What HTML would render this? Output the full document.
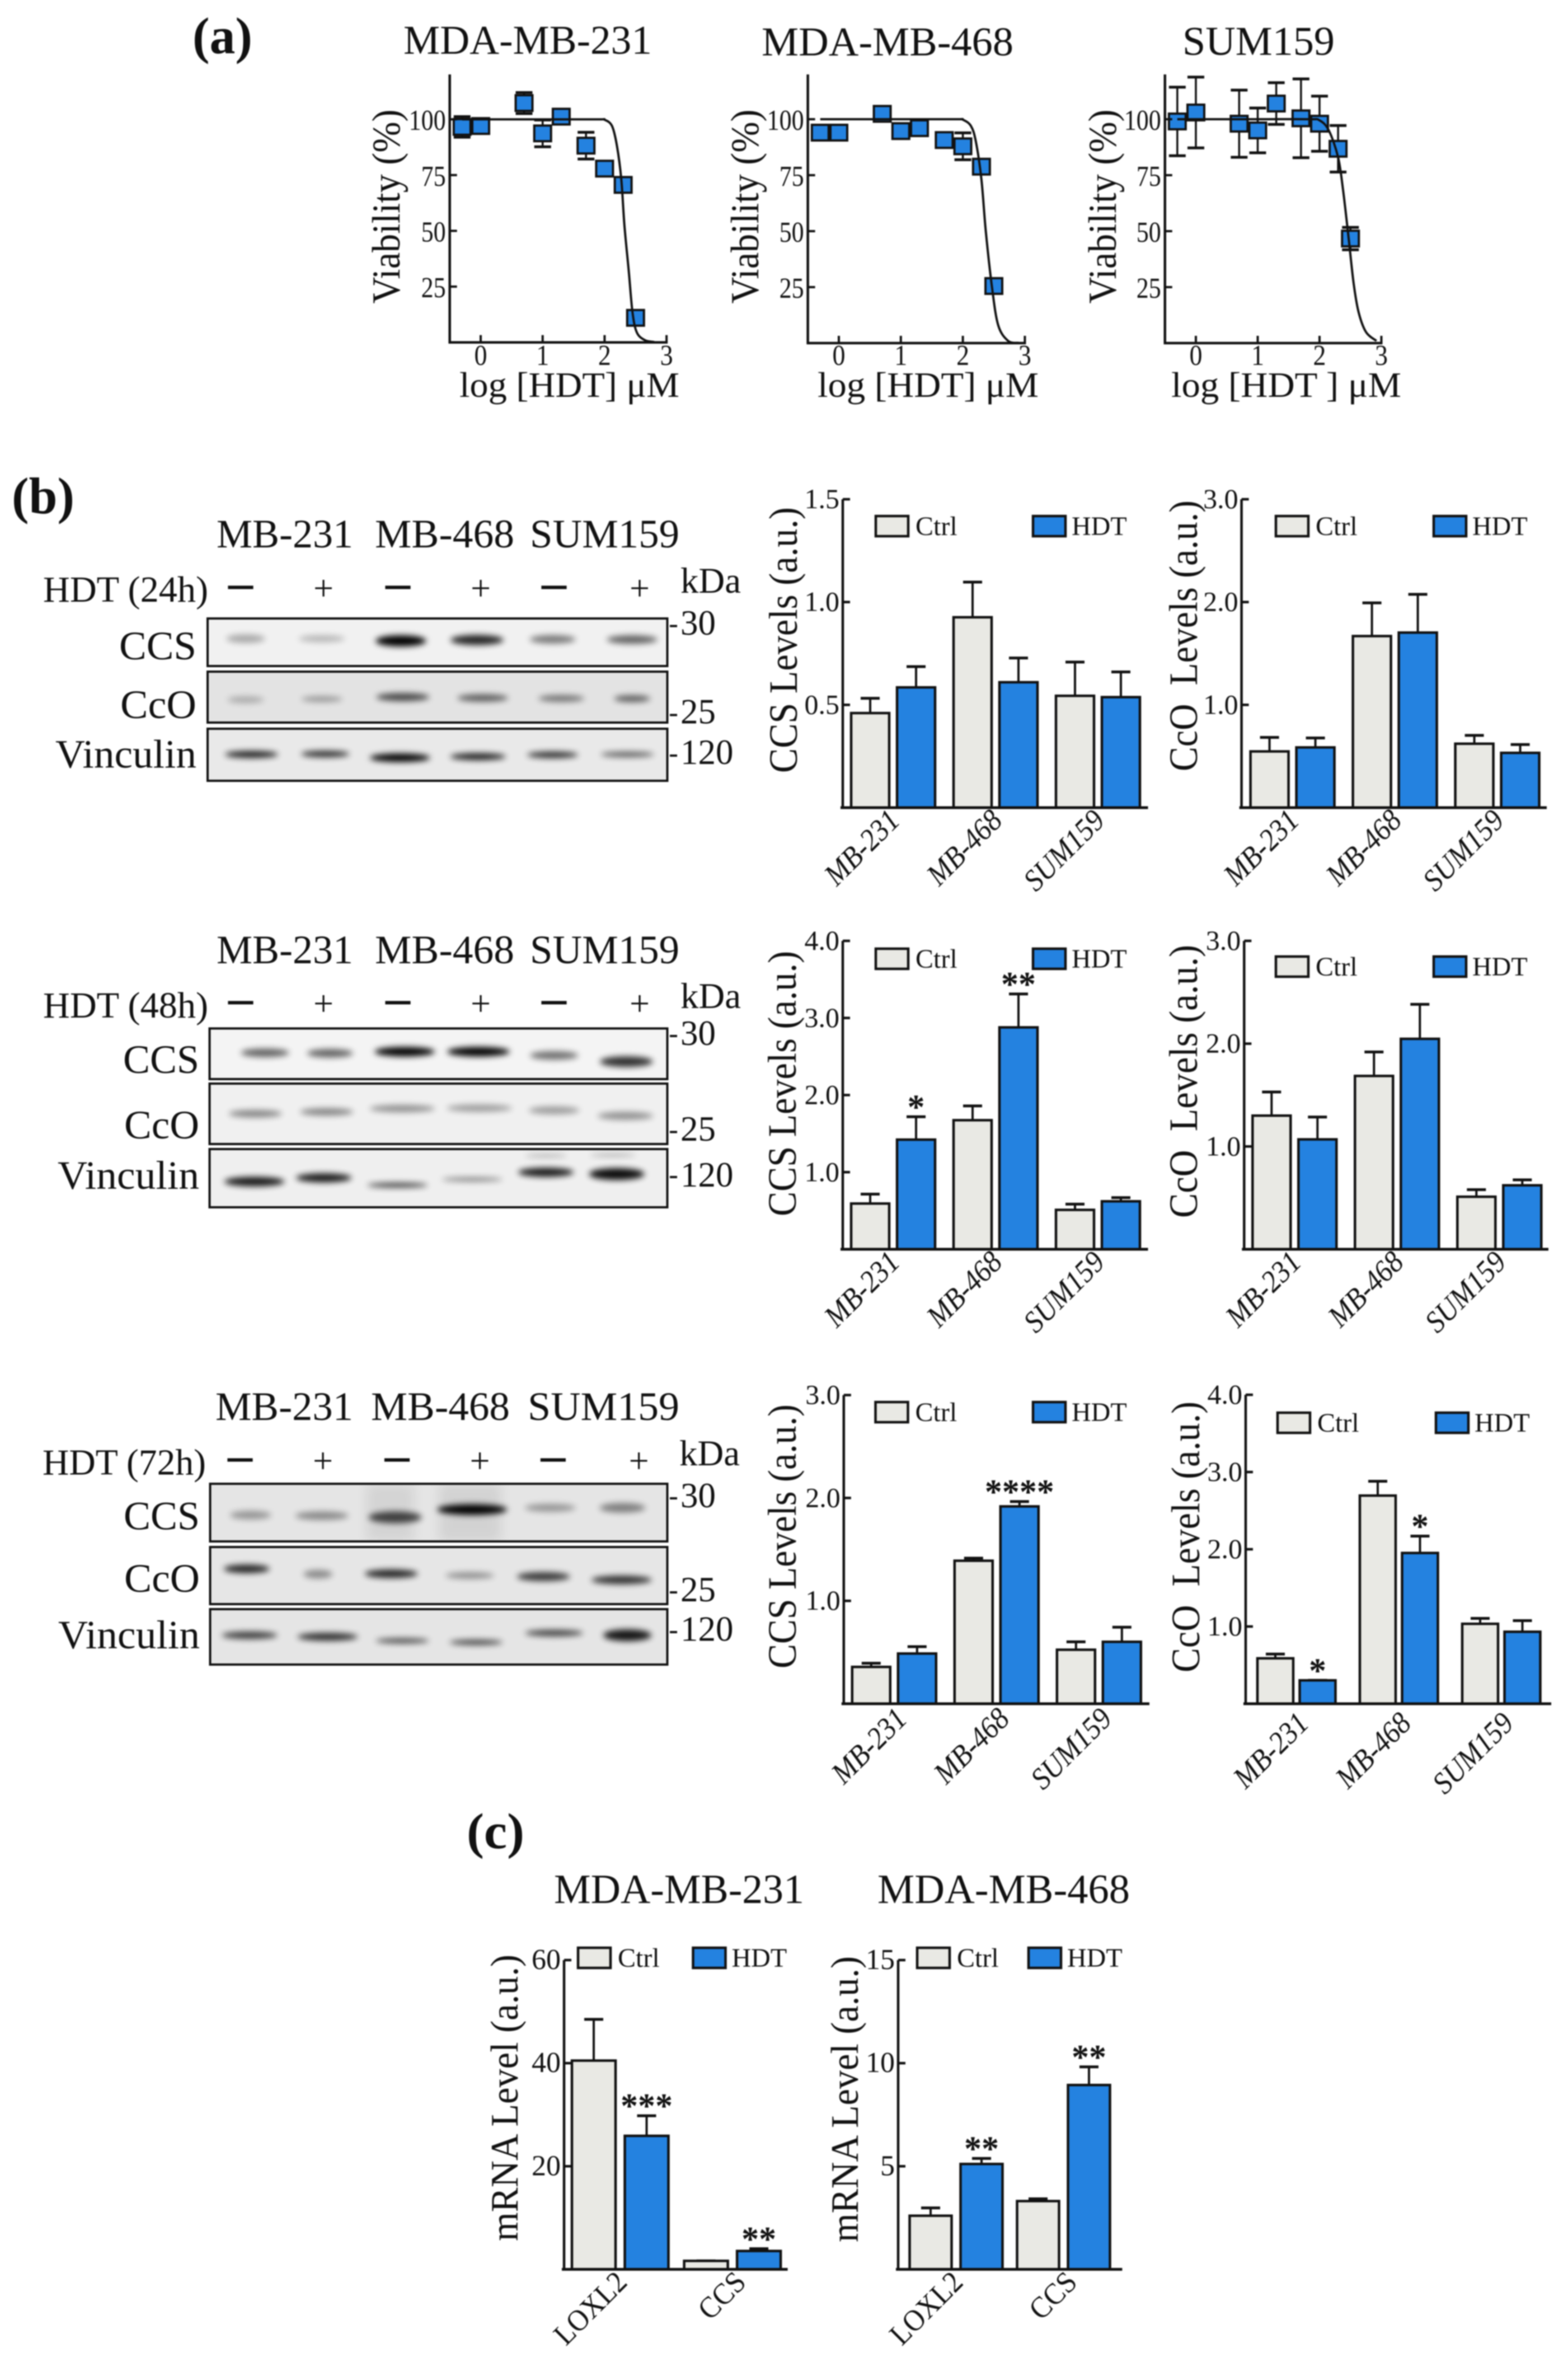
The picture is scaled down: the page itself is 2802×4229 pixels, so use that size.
<!DOCTYPE html>
<html lang="en">
<head>
<meta charset="utf-8">
<title>HDT viability, CCS and CcO levels</title>
<style>
html,body{margin:0;padding:0;background:#fff;}
svg{display:block;filter:blur(1.1px);}
text{font-family:"Liberation Serif",serif;fill:#111;white-space:pre;}
</style>
</head>
<body>
<svg id="fig" xmlns="http://www.w3.org/2000/svg" width="2802" height="4229" viewBox="0 0 2802 4229">
<defs>
<filter id="bandBlur" x="-40%" y="-200%" width="180%" height="500%"><feGaussianBlur stdDeviation="5.5"/></filter>
<filter id="smearBlur" x="-40%" y="-40%" width="180%" height="180%"><feGaussianBlur stdDeviation="10"/></filter>
</defs>
</svg>
<script>
/* ---------- dose-response data ---------- */
const doseX = [-0.3, 0, 0.7, 1, 1.3, 1.7, 2, 2.3, 2.5];
const xTickValues = [0, 1, 2, 3];
const yTickValues = [25, 50, 75, 100];

const mb231Viability = [96.6, 97, 107.3, 93.7, 101.2, 88.2, 77.9, 70.6, 11];
const mb231Err = [4.6, 1, 4.7, 6, 1, 6, 1, 1, 1];
const mb231CurveX = [-0.3, 1.0, 1.9, 2.0, 2.12, 2.2, 2.27, 2.32, 2.39, 2.45, 2.52, 2.65, 2.8];
const mb231CurveY = [100, 100, 100, 99.8, 97, 88, 73, 52.5, 32, 13.6, 4.5, 1, 0.2];

const mb468Viability = [94, 94, 102.4, 94.7, 96, 90.7, 87.9, 78.8, 25.5];
const mb468Err = [1, 1, 1.5, 1, 1, 1, 6, 1, 1];
const mb468CurveX = [-0.3, 1.0, 1.9, 2.0, 2.13, 2.21, 2.3, 2.37, 2.47, 2.57, 2.73, 2.9];
const mb468CurveY = [100, 100, 100, 99.8, 97, 90, 73, 50, 25, 8, 1, 0.1];

const sum159Viability = [99, 103, 98, 95, 107, 100.4, 98, 86.8, 46.7];
const sum159Err = [15.3, 15.8, 15, 10, 9.3, 17.6, 12.3, 10.4, 5];
const sum159CurveX = [-0.3, 1.0, 1.83, 2.0, 2.15, 2.3, 2.38, 2.47, 2.55, 2.63, 2.75, 2.92];
const sum159CurveY = [100, 100, 100, 99.5, 95, 83, 68.5, 47, 27, 14, 5, 1];

/* ---------- bar chart data ---------- */
const cellLines = ['MB-231', 'MB-468', 'SUM159'];
const genes = ['LOXL2', 'CCS'];

const ccs24Ctrl = [0.46, 0.926, 0.544];
const ccs24Hdt = [0.585, 0.61, 0.5375];
const ccs24CtrlErr = [0.532, 1.097, 0.708];
const ccs24HdtErr = [0.686, 0.728, 0.66];
const ccs24Ticks = [0.5, 1.0, 1.5];

const cco24Ctrl = [0.547, 1.669, 0.622];
const cco24Hdt = [0.586, 1.703, 0.533];
const cco24CtrlErr = [0.683, 1.992, 0.703];
const cco24HdtErr = [0.678, 2.075, 0.614];
const cco24Ticks = [1.0, 2.0, 3.0];

const ccs48Ctrl = [0.593, 1.674, 0.511];
const ccs48Hdt = [1.422, 2.878, 0.622];
const ccs48CtrlErr = [0.715, 1.859, 0.585];
const ccs48HdtErr = [1.719, 3.311, 0.67];
const ccs48Ticks = [1.0, 2.0, 3.0, 4.0];
const ccs48Stars = ['', '*', '', '**', '', ''];

const cco48Ctrl = [1.3, 1.686, 0.511];
const cco48Hdt = [1.069, 2.047, 0.622];
const cco48CtrlErr = [1.53, 1.919, 0.58];
const cco48HdtErr = [1.286, 2.383, 0.675];
const cco48Ticks = [1.0, 2.0, 3.0];

const ccs72Ctrl = [0.358, 1.39, 0.525];
const ccs72Hdt = [0.488, 1.918, 0.602];
const ccs72CtrlErr = [0.394, 1.415, 0.602];
const ccs72HdtErr = [0.555, 1.965, 0.744];
const ccs72Ticks = [1.0, 2.0, 3.0];
const ccs72Stars = ['', '', '', '****', '', ''];

const cco72Ctrl = [0.588, 2.695, 1.035];
const cco72Hdt = [0.303, 1.952, 0.932];
const cco72CtrlErr = [0.643, 2.88, 1.105];
const cco72HdtErr = [0.303, 2.17, 1.076];
const cco72Ticks = [1.0, 2.0, 3.0, 4.0];
const cco72Stars = ['', '*', '', '*', '', ''];

const mrna231Ctrl = [40.5, 1.64];
const mrna231Hdt = [25.9, 3.56];
const mrna231CtrlErr = [48.5, 1.64];
const mrna231HdtErr = [29.8, 4.0];
const mrna231Ticks = [20, 40, 60];
const mrna231Stars = ['', '***', '', '**'];

const mrna468Ctrl = [2.6, 3.31];
const mrna468Hdt = [5.11, 8.94];
const mrna468CtrlErr = [2.98, 3.42];
const mrna468HdtErr = [5.38, 9.82];
const mrna468Ticks = [5, 10, 15];
const mrna468Stars = ['', '**', '', '**'];

/* ---------- helpers ---------- */
const SVGNS = 'http://www.w3.org/2000/svg';
const root = document.getElementById('fig');
const INK = '#111';
const BLUE = '#2482e0';
const GREY = '#e9e9e4';

function el(parent, tag, attrs, name) {
  const e = document.createElementNS(SVGNS, tag);
  for (const k in attrs) e.setAttribute(k, attrs[k]);
  
  
  parent.appendChild(e);
  return e;
}
function group(parent, name) { return el(parent, 'g', {}, name); }
function line(parent, x1, y1, x2, y2, w, name) {
  return el(parent, 'line', {x1, y1, x2, y2, stroke: INK, 'stroke-width': w}, name);
}
function txt(parent, str, x, y, size, name, o) {
  o = o || {};
  const a = {x, y, 'font-size': size, 'text-anchor': o.anchor || 'start'};
  if (o.len) { a.textLength = o.len; a.lengthAdjust = 'spacingAndGlyphs'; }
  if (o.rot) a.transform = 'rotate(' + o.rot + ' ' + x + ' ' + y + ')';
  if (o.weight) a['font-weight'] = o.weight;
  if (o.italic) a['font-style'] = 'italic';
  const t = el(parent, 'text', a, name);
  t.textContent = str;
  if (o.naturalSize) {
    t.setAttribute('textLength', t.getComputedTextLength() * o.naturalSize / size);
    t.setAttribute('lengthAdjust', 'spacingAndGlyphs');
  }
  return t;
}
function smoothPath(pts) {
  let d = 'M' + pts[0][0] + ' ' + pts[0][1];
  for (let i = 0; i < pts.length - 1; i++) {
    const p0 = pts[Math.max(i - 1, 0)], p1 = pts[i], p2 = pts[i + 1], p3 = pts[Math.min(i + 2, pts.length - 1)];
    const c1x = p1[0] + (p2[0] - p0[0]) / 6, c1y = p1[1] + (p2[1] - p0[1]) / 6;
    const c2x = p2[0] - (p3[0] - p1[0]) / 6, c2y = p2[1] - (p3[1] - p1[1]) / 6;
    d += 'C' + c1x + ' ' + c1y + ' ' + c2x + ' ' + c2y + ' ' + p2[0] + ' ' + p2[1];
  }
  return d;
}

/* ---------- dose-response chart ---------- */
function doseChart(p) {
  const g = group(root, p.name);
  const sx = v => p.x0 + v * p.xUnit;
  const sy = v => p.bottom - v * p.yUnit;
  const axisL = sx(-0.5);
  txt(g, p.title, p.titleX[0], p.titleY, 73, 'chart-title', {len: p.titleX[1] - p.titleX[0]});
  txt(g, 'Viability (%)', p.ylabX, 369, 71, 'y-axis-title', {anchor: 'middle', rot: -90, len: 347});
  txt(g, p.xlabel, p.xlabX[0], 709, 64, 'x-axis-title', {len: p.xlabX[1] - p.xlabX[0]});
  p.err.forEach((e, i) => {
    const cx = sx(doseX[i]);
    const s = group(g, 'error-bar');
    line(s, cx, sy(p.vals[i] + e), cx, sy(p.vals[i] - e), 3.5, 'error-stem');
    line(s, cx - 15, sy(p.vals[i] + e), cx + 15, sy(p.vals[i] + e), 5, 'error-cap-top');
    line(s, cx - 15, sy(p.vals[i] - e), cx + 15, sy(p.vals[i] - e), 5, 'error-cap-bottom');
  });
  p.vals.forEach((v, i) => {
    el(g, 'rect', {x: sx(doseX[i]) - 15, y: sy(v) - 14, width: 30, height: 28, fill: BLUE, stroke: INK, 'stroke-width': 4}, 'data-point');
  });
  const pts = p.curveX.map((x, i) => [sx(x), sy(p.curveY[i])]);
  el(g, 'path', {d: smoothPath(pts), fill: 'none', stroke: INK, 'stroke-width': 4}, 'fit-curve');
  line(g, axisL, 133, axisL, p.bottom + 2, 4.5, 'y-axis');
  line(g, axisL - 2, p.bottom, sx(3) + 2, p.bottom, 4.5, 'x-axis');
  yTickValues.forEach(v => {
    line(g, axisL, sy(v), axisL + 13, sy(v), 4, 'y-tick');
    const s = String(v);
    txt(g, s, axisL - 7, sy(v) + 19, 52, 'y-tick-label', {anchor: 'end', len: s.length * 22});
  });
  xTickValues.forEach(v => {
    line(g, sx(v), p.bottom, sx(v), p.bottom - 13, 4, 'x-tick');
    txt(g, String(v), sx(v), 652, 52, 'x-tick-label', {anchor: 'middle', len: 23});
  });
}
doseChart({name: 'viability-chart-mda-mb-231', title: 'MDA-MB-231', titleX: [721, 1165], titleY: 96, x0: 859, xUnit: 110.7, bottom: 611.7, yUnit: 3.985, ylabX: 714, xlabel: 'log [HDT] \u03bcM', xlabX: [821, 1214], vals: mb231Viability, err: mb231Err, curveX: mb231CurveX, curveY: mb231CurveY});
doseChart({name: 'viability-chart-mda-mb-468', title: 'MDA-MB-468', titleX: [1361, 1811], titleY: 99, x0: 1499, xUnit: 110.8, bottom: 613, yUnit: 4, ylabX: 1355, xlabel: 'log [HDT] \u03bcM', xlabX: [1461, 1856], vals: mb468Viability, err: mb468Err, curveX: mb468CurveX, curveY: mb468CurveY});
doseChart({name: 'viability-chart-sum159', title: 'SUM159', titleX: [2113, 2385], titleY: 98, x0: 2137, xUnit: 110.5, bottom: 613, yUnit: 4, ylabX: 1994, xlabel: 'log [HDT ] \u03bcM', xlabX: [2093, 2504], vals: sum159Viability, err: sum159Err, curveX: sum159CurveX, curveY: sum159CurveY});

/* ---------- bar chart ---------- */
function barChart(p) {
  const g = group(root, p.name);
  const sy = v => p.bottom - (v / p.vmax) * (p.bottom - p.top);
  const centers = [];
  p.cats.forEach((c, i) => {
    const c0 = p.axisX + p.off + i * p.grp;
    centers.push(c0, c0 + p.inner);
  });
  const means = [], tops = [];
  p.cats.forEach((c, i) => { means.push(p.ctrl[i], p.hdt[i]); tops.push(p.ctrlErr[i], p.hdtErr[i]); });
  means.forEach((m, i) => {
    const cx = centers[i];
    line(g, cx, sy(m), cx, sy(tops[i]), 4, 'error-stem');
    line(g, cx - 17, sy(tops[i]), cx + 17, sy(tops[i]), 5, 'error-cap');
    el(g, 'rect', {x: cx - p.w / 2, y: sy(m), width: p.w, height: p.bottom - sy(m), fill: i % 2 ? BLUE : GREY, stroke: INK, 'stroke-width': 4.5}, i % 2 ? 'bar-hdt' : 'bar-ctrl');
    if (p.stars && p.stars[i]) {
      txt(g, p.stars[i], cx, sy(tops[i]) - 26 + p.starSize * 0.47, p.starSize, 'significance-stars', {anchor: 'middle', weight: 'bold'});
    }
  });
  line(g, p.axisX, p.top, p.axisX, p.bottom + 2, 4.5, 'y-axis');
  line(g, p.axisX - 4, p.bottom, p.xEnd, p.bottom, 5, 'x-axis');
  p.ticks.forEach(v => {
    line(g, p.axisX, sy(v), p.axisX + 13, sy(v), 4.5, 'y-tick');
    txt(g, p.tickFmt(v), p.axisX - 6, sy(v) + 16, p.tickSize, 'y-tick-label', {anchor: 'end'});
  });
  txt(g, p.ylabel, p.ylabX, (p.ylabY[0] + p.ylabY[1]) / 2, p.ylabSize, 'y-axis-title', {anchor: 'middle', rot: -90, len: p.ylabY[1] - p.ylabY[0]});
  p.cats.forEach((c, i) => {
    const gc = p.axisX + p.off + i * p.grp + p.inner / 2;
    const lx = gc + 15 + (p.labDx || 0) + (p.labDxEach ? p.labDxEach[i] : 0);
    const ly = p.bottom + 26 + (p.labDy || 0);
    txt(g, c, lx, ly, p.labSize, 'x-tick-label', {anchor: 'end', rot: -45, italic: p.labItalic, naturalSize: p.labNatural});
  });
  const lg = group(g, 'legend');
  const lh = 36;
  el(lg, 'rect', {x: p.leg[0], y: p.leg[2], width: 58, height: lh, fill: GREY, stroke: INK, 'stroke-width': 4.5}, 'legend-swatch-ctrl');
  txt(lg, 'Ctrl', p.leg[0] + 71, p.leg[2] + 34, 48, 'legend-label-ctrl');
  el(lg, 'rect', {x: p.leg[1], y: p.leg[2], width: 58, height: lh, fill: BLUE, stroke: INK, 'stroke-width': 4.5}, 'legend-swatch-hdt');
  txt(lg, 'HDT', p.leg[1] + 69, p.leg[2] + 34, 48, 'legend-label-hdt');
}
const fmt1 = v => v.toFixed(1);
const fmt0 = v => String(v);
const common = {cats: cellLines, off: 49, inner: 82, grp: 183, w: 68, tickFmt: fmt1, tickSize: 50, ylabSize: 72, starSize: 62, labSize: 55, labNatural: 50, labItalic: true};
barChart(Object.assign({}, common, {name: 'ccs-24h-bar-chart', axisX: 1506, top: 892, bottom: 1443, xEnd: 2051.5, vmax: 1.5, ticks: ccs24Ticks, ctrl: ccs24Ctrl, hdt: ccs24Hdt, ctrlErr: ccs24CtrlErr, hdtErr: ccs24HdtErr, ylabel: 'CCS Levels (a.u.)', ylabX: 1424, ylabY: [906, 1381], leg: [1565, 1846, 922]}));
barChart(Object.assign({}, common, {name: 'cco-24h-bar-chart', axisX: 2218.6, off: 50, top: 892, bottom: 1443, xEnd: 2764, vmax: 3, ticks: cco24Ticks, ctrl: cco24Ctrl, hdt: cco24Hdt, ctrlErr: cco24CtrlErr, hdtErr: cco24HdtErr, ylabel: 'CcO  Levels (a.u.)', ylabX: 2139, ylabY: [894, 1378], leg: [2280, 2562, 922]}));
barChart(Object.assign({}, common, {name: 'ccs-48h-bar-chart', axisX: 1506, top: 1681, bottom: 2232, xEnd: 2051.5, vmax: 4, ticks: ccs48Ticks, ctrl: ccs48Ctrl, hdt: ccs48Hdt, ctrlErr: ccs48CtrlErr, hdtErr: ccs48HdtErr, stars: ccs48Stars, ylabel: 'CCS Levels (a.u.)', ylabX: 1422, ylabY: [1699, 2173], leg: [1565, 1846, 1695]}));
barChart(Object.assign({}, common, {name: 'cco-48h-bar-chart', axisX: 2223.3, top: 1681, bottom: 2232, xEnd: 2767, vmax: 3, ticks: cco48Ticks, ctrl: cco48Ctrl, hdt: cco48Hdt, ctrlErr: cco48CtrlErr, hdtErr: cco48HdtErr, ylabel: 'CcO  Levels (a.u.)', ylabX: 2139, ylabY: [1688, 2176], leg: [2280, 2562, 1709]}));
barChart(Object.assign({}, common, {name: 'ccs-72h-bar-chart', axisX: 1507.8, top: 2492.5, bottom: 3044, xEnd: 2054, vmax: 3, ticks: ccs72Ticks, ctrl: ccs72Ctrl, hdt: ccs72Hdt, ctrlErr: ccs72CtrlErr, hdtErr: ccs72HdtErr, stars: ccs72Stars, labDx: 11, labDy: 4, ylabel: 'CCS Levels (a.u.)', ylabX: 1422, ylabY: [2509, 2981], leg: [1564.5, 1846, 2505]}));
barChart(Object.assign({}, common, {name: 'cco-72h-bar-chart', axisX: 2226, off: 53, inner: 75.5, w: 64, top: 2492, bottom: 3044, xEnd: 2772, vmax: 4, ticks: cco72Ticks, ctrl: cco72Ctrl, hdt: cco72Hdt, ctrlErr: cco72CtrlErr, hdtErr: cco72HdtErr, stars: cco72Stars, labDx: 10, labDy: 12, ylabel: 'CcO  Levels (a.u.)', ylabX: 2143, ylabY: [2504, 2988], leg: [2283, 2566, 2524]}));
barChart(Object.assign({}, common, {name: 'mrna-mda-mb-231-bar-chart', cats: genes, axisX: 1008, off: 53, inner: 94.5, grp: 200.6, w: 78, top: 3502, bottom: 4054.5, xEnd: 1407.6, vmax: 60, ticks: mrna231Ticks, tickFmt: fmt0, tickSize: 52, ctrl: mrna231Ctrl, hdt: mrna231Hdt, ctrlErr: mrna231CtrlErr, hdtErr: mrna231HdtErr, stars: mrna231Stars, starSize: 62, labItalic: false, labSize: 54, labNatural: 50, labDxEach: [0, 12], ylabel: 'mRNA Level (a.u.)', ylabSize: 70, ylabX: 925, ylabY: [3492, 4004], leg: [1033, 1238.5, 3480]}));
barChart(Object.assign({}, common, {name: 'mrna-mda-mb-468-bar-chart', cats: genes, axisX: 1605, off: 58, inner: 91, grp: 192, w: 75, top: 3502, bottom: 4054.5, xEnd: 2005.4, vmax: 15, ticks: mrna468Ticks, tickFmt: fmt0, tickSize: 52, ctrl: mrna468Ctrl, hdt: mrna468Hdt, ctrlErr: mrna468CtrlErr, hdtErr: mrna468HdtErr, stars: mrna468Stars, starSize: 62, labItalic: false, labSize: 54, labNatural: 50, labDxEach: [0, 12], ylabel: 'mRNA Level (a.u.)', ylabSize: 70, ylabX: 1533, ylabY: [3495, 4006], leg: [1639, 1838, 3480]}));

/* ---------- western blots (decorative images, not data charts) ---------- */
function blotPanel(parent, name, x, y, w, h, bg, bands, clipId, smears) {
  const g = group(parent, name);
  el(g, 'rect', {x, y, width: w, height: h, fill: bg}, 'blot-background');
  const cp = el(g, 'clipPath', {id: clipId}, 'blot-clip');
  el(cp, 'rect', {x, y, width: w, height: h}, 'blot-clip-rect');
  const inner = el(g, 'g', {'clip-path': 'url(#' + clipId + ')'}, 'blot-bands');
  (smears || []).forEach(s => {
    el(inner, 'rect', {x: s[0], y, width: s[1], height: h, fill: '#000', opacity: s[2], filter: 'url(#smearBlur)'}, 'blot-smear');
  });
  bands.forEach(b => {
    el(inner, 'ellipse', {cx: b[0], cy: b[1], rx: b[2] / 2, ry: b[3] / 2, fill: '#000', opacity: b[4], filter: 'url(#bandBlur)'}, 'protein-band');
  });
  el(g, 'rect', {x, y, width: w, height: h, fill: 'none', stroke: INK, 'stroke-width': 4}, 'blot-border');
}
function blotRow(p) {
  const g = group(root, p.name);
  const hdr = ['MB-231', 'MB-468', 'SUM159'];
  hdr.forEach((t, i) => txt(g, t, p.hdrX[i][0], p.hdrY, 72, 'lane-group-label', {len: p.hdrX[i][1] - p.hdrX[i][0]}));
  txt(g, p.treat, p.treatX[0], p.treatY, 66, 'treatment-label', {len: p.treatX[1] - p.treatX[0]});
  txt(g, 'kDa', p.kdaX, p.kdaY, 65, 'kda-label', {len: 108});
  p.lanes.forEach((x, i) => {
    if (i % 2) txt(g, '+', x, p.signY + 16, 64, 'lane-plus', {anchor: 'middle'});
    else txt(g, '\u2013', x, p.signY + 14, 88, 'lane-minus', {anchor: 'middle', weight: 'bold'});
  });
  p.panels.forEach((q, i) => {
    blotPanel(g, 'blot-' + q.label.toLowerCase(), p.boxX[0], q.y, p.boxX[1] - p.boxX[0], q.h, q.bg, q.bands, p.name + '-clip-' + i, q.smears);
    txt(g, q.label, p.labelRight, q.base, 72, 'protein-label-' + q.label.toLowerCase(), {anchor: 'end', len: q.len});
    line(g, 1197, q.tickY, 1210, q.tickY, 4, 'mw-tick');
    txt(g, q.mw, 1216, q.mwBase, 63, 'mw-label');
  });
}
function mapBands(xs, ys, ws, hs, ints, yfn) {
  return xs.map((x, i) => [x * 0.861, yfn(ys[i]), ws[i] * 0.861, hs[i], ints[i]]);
}
const y1 = z => 820 + z * 0.3954;
const y2 = z => 1620 + z * 0.3954;
const y3 = z => 2440 + z * 0.3954;

blotRow({name: 'western-blot-24h', hdrX: [[387, 631], [670, 919], [947, 1214]], hdrY: 978, treat: 'HDT (24h)', treatX: [77, 372], treatY: 1075, kdaX: 1216, kdaY: 1059, signY: 1056, lanes: [430, 578, 711, 859, 990, 1143], boxX: [371, 1192.5], labelRight: 351,
  panels: [
    {label: 'CCS', y: 1105, h: 85, bg: '#f1f1f1', base: 1178, len: 138, tickY: 1118.5, mw: '30', mwBase: 1134,
     bands: mapBands([510, 668, 832, 990, 1147, 1312], [812, 812, 822, 818, 815, 816], [80, 95, 105, 110, 95, 105], [15, 12, 20, 18, 15, 15], [.3, .25, 1, .85, .5, .6], y1)},
    {label: 'CcO', y: 1200, h: 91, bg: '#e3e3e3', base: 1283, len: 136, tickY: 1277.5, mw: '25', mwBase: 1292.5,
     bands: mapBands([510, 668, 836, 1002, 1165, 1312], [1088, 1085, 1076, 1080, 1082, 1083], [75, 85, 110, 105, 95, 75], [12, 10, 14, 13, 12, 12], [.25, .35, .7, .6, .5, .6], y1)},
    {label: 'Vinculin', y: 1302, h: 93, bg: '#e9e9e9', base: 1371.5, len: 252, tickY: 1350, mw: '120', mwBase: 1365,
     bands: mapBands([522, 675, 830, 992, 1147, 1302], [1335, 1333, 1350, 1345, 1337, 1335], [110, 100, 125, 115, 105, 110], [12, 11, 15, 12, 11, 9], [.9, .85, 1, .9, .85, .65], y1)}
  ]});

blotRow({name: 'western-blot-48h', hdrX: [[387, 631], [670, 919], [947, 1214]], hdrY: 1721, treat: 'HDT (48h)', treatX: [77, 372], treatY: 1818, kdaX: 1216, kdaY: 1801, signY: 1798, lanes: [430, 578, 711, 859, 990, 1143], boxX: [374.5, 1192.5], labelRight: 356,
  panels: [
    {label: 'CCS', y: 1837.5, h: 90.5, bg: '#f4f4f4', base: 1917, len: 136, tickY: 1851, mw: '30', mwBase: 1867,
     bands: mapBands([550, 685, 840, 993, 1150, 1300], [660, 662, 655, 655, 672, 700], [100, 95, 125, 130, 100, 110], [15, 15, 17, 17, 15, 19], [.6, .6, 1, 1, .55, .8], y2)},
    {label: 'CcO', y: 1936, h: 108, bg: '#f0f0f0', base: 2034, len: 134, tickY: 2022.5, mw: '25', mwBase: 2038,
     bands: mapBands([530, 678, 835, 995, 1150, 1298], [935, 927, 912, 910, 920, 945], [110, 110, 135, 135, 105, 115], [13, 13, 13, 13, 14, 14], [.45, .45, .4, .35, .35, .4], y2)},
    {label: 'Vinculin', y: 2053, h: 104, bg: '#efefef', base: 2124, len: 253, tickY: 2103, mw: '120', mwBase: 2120,
     bands: mapBands([528, 672, 825, 980, 1133, 1280, 1133, 1272], [1242, 1225, 1258, 1232, 1200, 1208, 1125, 1122], [125, 115, 125, 125, 115, 115, 85, 95], [17, 16, 8, 7, 16, 21, 4, 4], [.9, .9, .8, .5, .9, .95, .4, .4], y2)}
  ]});

blotRow({name: 'western-blot-72h', hdrX: [[385, 631], [663, 911], [943, 1214]], hdrY: 2537, treat: 'HDT (72h)', treatX: [76, 368], treatY: 2634.5, kdaX: 1214, kdaY: 2618, signY: 2615, lanes: [429, 577, 709.5, 857.5, 988.4, 1141.7], boxX: [375.5, 1192.5], labelRight: 357,
  panels: [
    {label: 'CCS', y: 2651, h: 103, bg: '#e5e5e5', base: 2732.6, len: 136, tickY: 2677, mw: '30', mwBase: 2693,
     smears: [[655, 85, .07], [785, 110, .08]],
     bands: mapBands([520, 668, 820, 980, 1142, 1292], [675, 678, 685, 650, 642, 642], [85, 110, 110, 145, 105, 95], [15, 15, 21, 19, 14, 17], [.35, .4, .7, 1, .35, .45], y3)},
    {label: 'CcO', y: 2764, h: 102, bg: '#e6e6e6', base: 2844, len: 135, tickY: 2845, mw: '25', mwBase: 2861,
     bands: mapBands([512, 660, 812, 975, 1128, 1290], [918, 942, 940, 948, 953, 968], [95, 60, 110, 100, 110, 125], [15, 15, 15, 11, 16, 15], [.85, .4, .85, .4, .75, .8], y3)},
    {label: 'Vinculin', y: 2875, h: 99, bg: '#e5e5e5', base: 2945, len: 253, tickY: 2916, mw: '120', mwBase: 2931.5,
     bands: mapBands([518, 680, 835, 988, 1150, 1302], [1218, 1225, 1243, 1250, 1208, 1218], [115, 125, 110, 110, 120, 100], [13, 14, 9, 9, 11, 21], [.75, .8, .7, .75, .75, .9], y3)}
  ]});

/* ---------- panel letters and section titles ---------- */
txt(root, '(a)', 344, 95, 92, 'panel-label-a', {weight: 'bold', len: 107});
txt(root, '(b)', 21, 917, 92, 'panel-label-b', {weight: 'bold', len: 112});
txt(root, '(c)', 834, 3302, 90, 'panel-label-c', {weight: 'bold', len: 103});
txt(root, 'MDA-MB-231', 990, 3400, 74, 'mrna-title-mda-mb-231', {len: 447});
txt(root, 'MDA-MB-468', 1568, 3400, 74, 'mrna-title-mda-mb-468', {len: 451});
</script>
</body>
</html>
